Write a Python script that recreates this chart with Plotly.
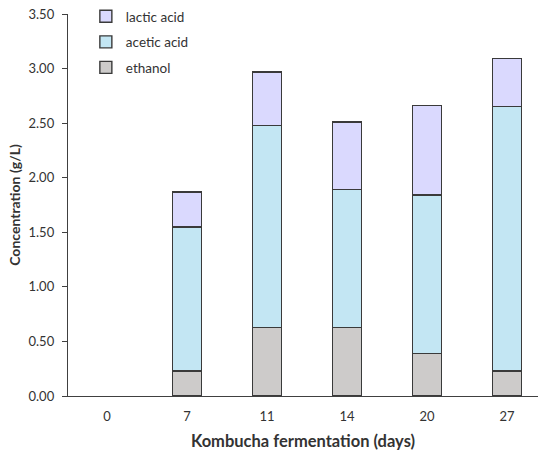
import plotly.graph_objects as go

days = ["0", "7", "11", "14", "20", "27"]
ethanol = [0, 0.23, 0.63, 0.63, 0.39, 0.23]
acetic = [0, 1.32, 1.85, 1.26, 1.45, 2.42]
lactic = [0, 0.32, 0.49, 0.62, 0.82, 0.44]
y_ticks = [0, 0.5, 1.0, 1.5, 2.0, 2.5, 3.0, 3.5]


def shown(values):
    # zero-height bars are not drawn (no outline) in the original
    return [v if v else None for v in values]


line = dict(color="#3a3a3a", width=1.4)
fig = go.Figure()
fig.add_bar(x=days, y=shown(ethanol), name="ethanol", legendrank=3,
            marker=dict(color="#CDCBCA", line=line), legendgroup="e")
fig.add_bar(x=days, y=shown(acetic), name="acetic acid", legendrank=2,
            marker=dict(color="#C3E6F3", line=line), legendgroup="a")
fig.add_bar(x=days, y=shown(lactic), name="lactic acid", legendrank=1,
            marker=dict(color="#DAD9FE", line=line), legendgroup="l")

font = "Lato, 'Open Sans', sans-serif"
fig.update_layout(
    barmode="stack",
    bargap=0.64,
    width=538, height=451,
    margin=dict(l=68, r=0, t=14, b=55, autoexpand=False),
    plot_bgcolor="white", paper_bgcolor="white",
    font=dict(family=font, size=13, color="#333"),
    legend=dict(x=0.038, y=1.034, xanchor="left", yanchor="top", traceorder="grouped",
                tracegroupgap=5, font=dict(size=13.5), bgcolor="rgba(0,0,0,0)"),
    xaxis=dict(title=dict(text="<b>Kombucha fermentation (days)</b>", font=dict(size=16.5), standoff=13),
               range=[-0.4875, 5.3875], automargin=False, ticklabelstandoff=8,
               showline=True, linecolor="#404040", linewidth=1.4, ticks="", showgrid=False),
    yaxis=dict(title=dict(text="<b>Concentration (g/L)</b>", font=dict(size=14), standoff=4),
               range=[0, 3.5], tickvals=y_ticks, tickformat=".2f", automargin=False,
               ticklabelstandoff=5,
               showline=True, linecolor="#404040", linewidth=1.4, ticks="outside", ticklen=5,
               tickcolor="#404040", showgrid=False, zeroline=False),
)
fig.write_html("out.html", config={"displayModeBar": False},
               post_script="document.body.style.margin='0';document.body.style.overflow='hidden';")
